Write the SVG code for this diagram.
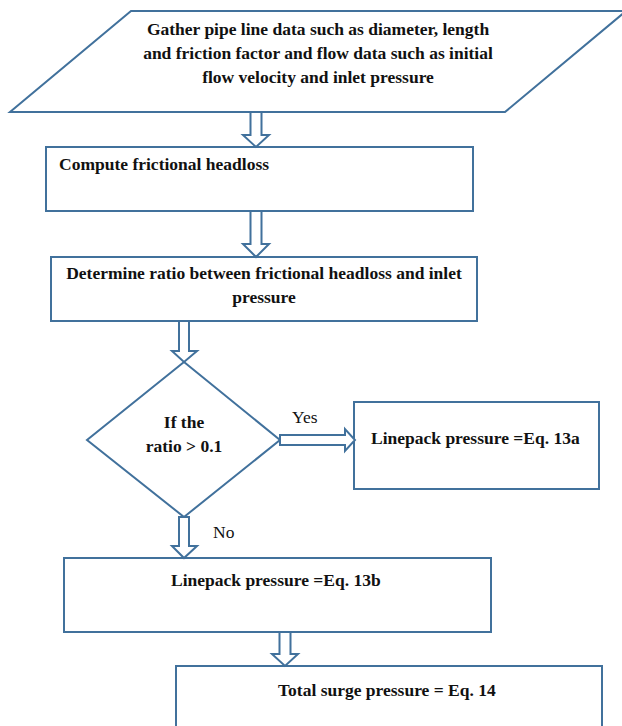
<svg xmlns="http://www.w3.org/2000/svg" width="622" height="726" viewBox="0 0 622 726">
<style>
.shape{fill:#fff;stroke:#41719c;stroke-width:2}
.arr{fill:#fff;stroke:#41719c;stroke-width:2;stroke-linejoin:miter}
text{font-family:'Liberation Serif','DejaVu Serif',serif;font-size:17.5px;fill:#111}
.t{font-weight:bold}
</style>
<rect width="622" height="726" fill="#fff"/>
<g id="n1">
<polygon class="shape" points="131,11 626,11 505,112 10,112"/>
<text class="t" x="318" y="35" text-anchor="middle">Gather pipe line data such as diameter, length</text>
<text class="t" x="318" y="59" text-anchor="middle">and friction factor and flow data such as initial</text>
<text class="t" x="318" y="83" text-anchor="middle">flow velocity and inlet pressure</text>
</g>
<g id="n2">
<rect class="shape" x="46" y="147" width="427" height="64"/>
<text class="t" x="59" y="170">Compute frictional headloss</text>
</g>
<g id="n3">
<rect class="shape" x="51" y="257" width="426" height="64"/>
<text class="t" x="264" y="279" text-anchor="middle">Determine ratio between frictional headloss and inlet</text>
<text class="t" x="264" y="303" text-anchor="middle">pressure</text>
</g>
<g id="n4">
<polygon class="shape" points="184,362 280,440 184,517 87,440"/>
<text class="t" x="184" y="428" text-anchor="middle">If the</text>
<text class="t" x="184" y="452" text-anchor="middle">ratio &gt; 0.1</text>
</g>
<g id="n5">
<rect class="shape" x="354" y="402" width="245" height="87"/>
<text class="t" x="371" y="444">Linepack pressure =Eq. 13a</text>
</g>
<g id="n6">
<rect class="shape" x="64" y="558" width="427" height="74"/>
<text class="t" x="171" y="586">Linepack pressure =Eq. 13b</text>
</g>
<g id="n7">
<rect class="shape" x="176" y="666" width="426" height="70"/>
<text class="t" x="278" y="696">Total surge pressure = Eq. 14</text>
</g>
<g id="connectors">
<polygon class="arr" points="250.5,112 261.5,112 261.5,135 269,135 256,147 243,135 250.5,135"/>
<polygon class="arr" points="250.5,211 261.5,211 261.5,244 269,244 256,257 243,244 250.5,244"/>
<polygon class="arr" points="179,321 189,321 189,351 197,351 184,362 172,351 179,351"/>
<polygon class="arr" points="280,435 345,435 345,429 355,440 345,451 345,445 280,445"/>
<polygon class="arr" points="179,517 189,517 189,546 197,546 184,558 172,546 179,546"/>
<polygon class="arr" points="279.5,632 290.5,632 290.5,654 298,654 285,666 272,654 279.5,654"/>
<text x="292" y="423">Yes</text>
<text x="213" y="538">No</text>
</g>
</svg>
